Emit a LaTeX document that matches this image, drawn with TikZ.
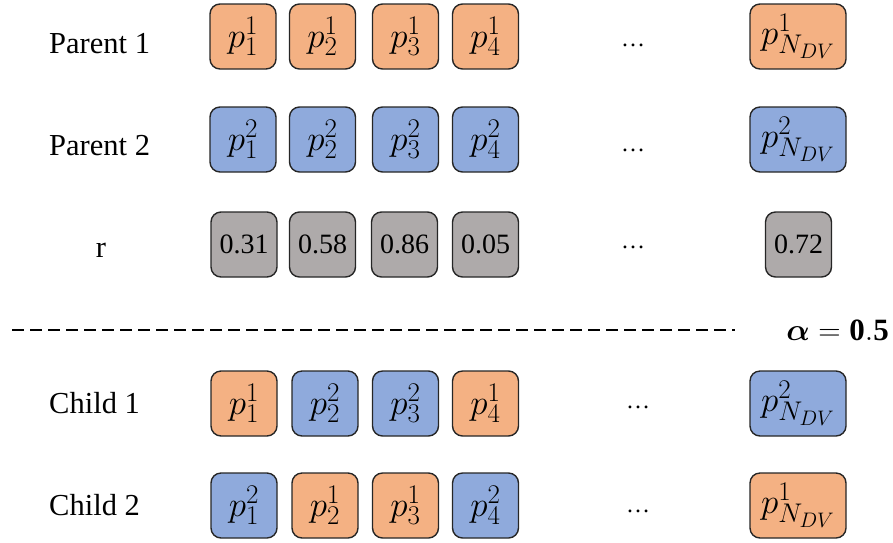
\RequirePackage{fix-cm}
\documentclass[tikz,border=0pt]{standalone}
\usepackage{amsmath}
\usepackage{bm}
\usepackage{fontspec}
\setmainfont{Liberation Serif}
\DeclareMathSizes{35}{35}{27}{21}
\DeclareMathSizes{31}{31}{24}{19}
\definecolor{porange}{HTML}{F4B183}
\definecolor{pblue}{HTML}{8FAADC}
\definecolor{pgray}{HTML}{AEAAAA}
\tikzset{
  cell/.style={draw=black!85, line width=1.4pt, rounded corners=10pt,
    minimum width=66pt, minimum height=65pt, inner sep=0pt,
    font=\fontsize{35}{40}\selectfont},
  wide/.style={cell, minimum width=96pt},
  ora/.style={fill=porange},
  blu/.style={fill=pblue},
  gry/.style={cell, fill=pgray, font=\fontsize{28}{32}\selectfont},
  lab/.style={inner sep=0pt, font=\fontsize{30.5}{35}\selectfont},
  dotsn/.style={inner sep=0pt, font=\fontsize{24}{28}\selectfont},
}
\begin{document}
\begin{tikzpicture}[x=1pt,y=-1pt]
\useasboundingbox (0,0) rectangle (893,542);
% labels
\node[lab, anchor=base west] (l1) at (49,53) {Parent 1};
\node[lab, anchor=base west] (l2) at (49,155) {Parent 2};
\node[lab, anchor=base] (l3) at (101,257) {r};
\node[lab, anchor=base west] (l4) at (49,413) {Child 1};
\node[lab, anchor=base west] (l5) at (49,515) {Child 2};
% Parent 1
\node[cell,ora] (a1) at (243,36.5) {$p_1^1$};
\node[cell,ora] (a2) at (322.5,36.5) {$p_2^1$};
\node[cell,ora] (a3) at (405.5,36.5) {$p_3^1$};
\node[cell,ora] (a4) at (485.5,36.5) {$p_4^1$};
\node[dotsn] (ad) at (633,45) {…};
\node[wide,ora] (an) at (798,36.5) {$p_{N_{DV}}^1$};
% Parent 2
\node[cell,blu] (b1) at (243,139.5) {$p_1^2$};
\node[cell,blu] (b2) at (322.5,139.5) {$p_2^2$};
\node[cell,blu] (b3) at (405.5,139.5) {$p_3^2$};
\node[cell,blu] (b4) at (485.5,139.5) {$p_4^2$};
\node[dotsn] (bd) at (633,150) {…};
\node[wide,blu] (bn) at (798,139.5) {$p_{N_{DV}}^2$};
% r
\node[gry] (c1) at (244,244.5) {0.31};
\node[gry] (c2) at (322.5,244.5) {0.58};
\node[gry] (c3) at (404.5,244.5) {0.86};
\node[gry] (c4) at (485.5,244.5) {0.05};
\node[dotsn] (cd) at (633,247) {…};
\node[gry] (cn) at (798.5,244.5) {0.72};
% separator
\coordinate (s1) at (12,330);
\coordinate (s2) at (735,330);
\draw[line width=1.8pt, dash pattern=on 12pt off 6pt] (s1) -- (s2);
\node[inner sep=0pt, anchor=base east, font=\fontsize{31}{36}\selectfont] (alpha) at (889,340) {$\bm{\alpha}=\mathbf{0.5}$};
% Child 1
\node[cell,ora] (d1) at (244,403.5) {$p_1^1$};
\node[cell,blu] (d2) at (325,403.5) {$p_2^2$};
\node[cell,blu] (d3) at (405.5,403.5) {$p_3^2$};
\node[cell,ora] (d4) at (485.5,403.5) {$p_4^1$};
\node[dotsn] (dd) at (638,407) {…};
\node[wide,blu] (dn) at (798,403.5) {$p_{N_{DV}}^2$};
% Child 2
\node[cell,blu] (e1) at (244,505.5) {$p_1^2$};
\node[cell,ora] (e2) at (325,505.5) {$p_2^1$};
\node[cell,ora] (e3) at (405.5,505.5) {$p_3^1$};
\node[cell,blu] (e4) at (485.5,505.5) {$p_4^2$};
\node[dotsn] (ed) at (638,511) {…};
\node[wide,ora] (en) at (798,505.5) {$p_{N_{DV}}^1$};
\end{tikzpicture}
\end{document}
